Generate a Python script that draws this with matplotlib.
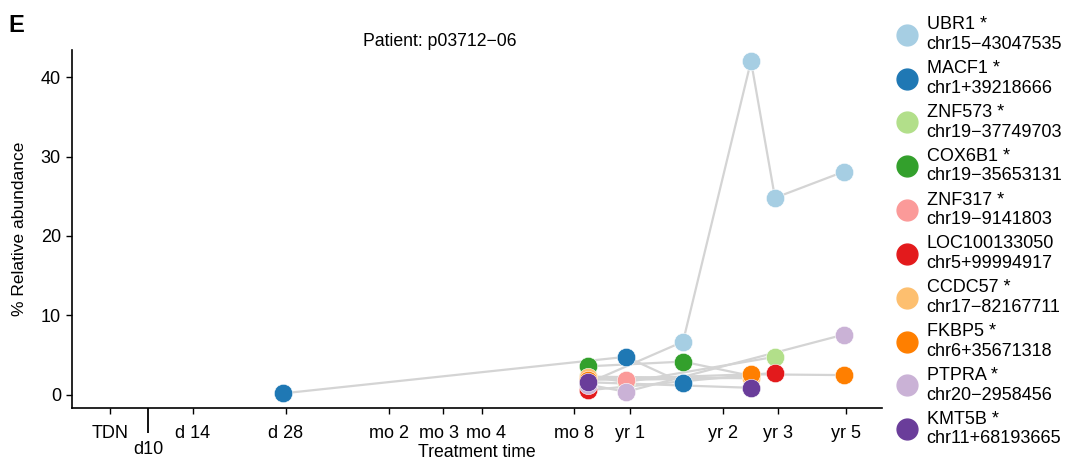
import numpy as np
import matplotlib
matplotlib.use("Agg")
import matplotlib.pyplot as plt
import matplotlib.transforms as mtransforms
from matplotlib.lines import Line2D

plt.rcParams['font.family'] = ['Liberation Sans', 'DejaVu Sans']

# time axis (arbitrary position units along the treatment-time axis)
tick_labels = ['TDN', 'd 14', 'd 28', 'mo 2', 'mo 3', 'mo 4', 'mo 8', 'yr 1', 'yr 2', 'yr 3', 'yr 5']
tick_pos = [38, 121, 214, 317, 371, 410, 502, 558, 651, 706, 774]
d10_pos = 76

# sampled time points
sample_pos = [211, 516, 554, 611, 679, 703, 772]

nan = np.nan
genes = ['UBR1 *', 'MACF1 *', 'ZNF573 *', 'COX6B1 *', 'ZNF317 *',
         'LOC100133050', 'CCDC57 *', 'FKBP5 *', 'PTPRA *', 'KMT5B *']
loci = ['chr15\u221243047535', 'chr1+39218666', 'chr19\u221237749703',
        'chr19\u221235653131', 'chr19\u22129141803', 'chr5+99994917',
        'chr17\u221282167711', 'chr6+35671318', 'chr20\u22122958456',
        'chr11+68193665']
colors = ['#a6cee3', '#1f78b4', '#b2df8a', '#33a02c', '#fb9a99',
          '#e31a1c', '#fdbf6f', '#ff7f00', '#cab2d6', '#6a3d9a']

# % relative abundance per gene at each sample (nan = not detected)
ubr1 = [nan, 1.5, nan, 6.7, 42.0, 24.8, 28.1]
macf1 = [0.2, nan, 4.8, 1.5, nan, nan, nan]
znf573 = [nan, 2.4, 1.6, nan, nan, 4.8, nan]
cox6b1 = [nan, 3.6, nan, 4.2, 2.4, nan, nan]
znf317 = [nan, 2.0, 1.9, nan, 2.2, nan, nan]
loc100133050 = [nan, 0.6, nan, nan, nan, 2.8, nan]
ccdc57 = [nan, 2.3, nan, nan, 2.1, nan, nan]
fkbp5 = [nan, 1.9, nan, nan, 2.6, nan, 2.5]
ptpra = [nan, 1.3, 0.4, nan, nan, nan, 7.6]
kmt5b = [nan, 1.6, nan, nan, 0.9, nan, nan]
values = [ubr1, macf1, znf573, cox6b1, znf317, loc100133050, ccdc57, fkbp5, ptpra, kmt5b]

fig = plt.figure(figsize=(10.65, 4.59), dpi=100)
ax = fig.add_axes([72 / 1065, 1 - 408 / 459, 810 / 1065, (408 - 50) / 459])

x = np.array(sample_pos, dtype=float)
for vals in values:
    v = np.array(vals, dtype=float)
    m = ~np.isnan(v)
    ax.plot(x[m], v[m], color='#d4d4d4', lw=1.6, zorder=1)
for i, vals in enumerate(values):
    v = np.array(vals, dtype=float)
    m = ~np.isnan(v)
    ax.scatter(x[m], v[m], s=175, color=colors[i], edgecolors='white',
               linewidths=0.4, zorder=2 + i)

ax.set_xlim(0, 810)
ax.set_ylim(-1.64, 43.4)
ax.set_yticks([0, 10, 20, 30, 40])
ax.set_xticks(tick_pos)
ax.set_xticklabels(tick_labels)
ax.set_xticks([d10_pos], minor=True)
ax.set_xticklabels(['d10'], minor=True)
ax.tick_params(axis='both', which='major', labelsize=13, length=4, width=1, pad=4)
ax.tick_params(axis='x', which='major', pad=8)
ax.tick_params(axis='x', which='minor', labelsize=13, length=18, width=1.3, pad=6)
for s in ['top', 'right']:
    ax.spines[s].set_visible(False)
for s in ['left', 'bottom']:
    ax.spines[s].set_linewidth(1.2)

# nudge the crowded mo 3 / mo 4 labels apart a little
for lab, dx in zip(ax.get_xticklabels(), [0, 0, 0, 0, -4, 4, 0, 0, 0, 0, 0]):
    if dx:
        lab.set_transform(lab.get_transform() +
                          mtransforms.ScaledTranslation(dx / 100, 0, fig.dpi_scale_trans))

ax.set_xlabel('Treatment time', fontsize=12.7)
ax.xaxis.set_label_coords(0.5, -0.124)
ax.xaxis.label.set_va('center')
ax.set_ylabel('% Relative abundance', fontsize=12.5, labelpad=10)
ax.text(0.454, 1.025, 'Patient: p03712\u221206', transform=ax.transAxes,
        ha='center', va='center', fontsize=12.7)
fig.text(0.008, 0.945, 'E', fontsize=17, fontweight='bold', ha='left', va='center')

handles = [Line2D([], [], ls='none', marker='o', markersize=15, color=c) for c in colors]
labels = [g + '\n' + l for g, l in zip(genes, loci)]
fig.legend(handles, labels, loc='upper left', bbox_to_anchor=(0.831, 0.988),
           frameon=False, fontsize=13, labelspacing=0.4, handletextpad=0.5,
           handlelength=1.2, borderaxespad=0.2)

fig.savefig('out.png', dpi=100)
